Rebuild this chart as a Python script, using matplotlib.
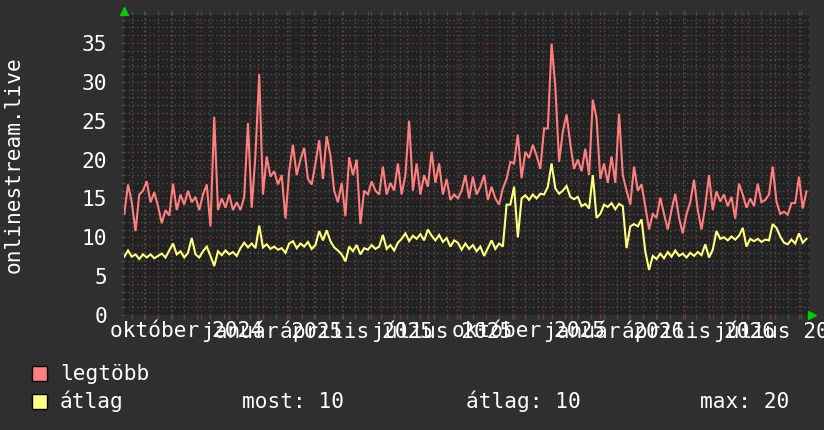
import matplotlib
matplotlib.use("Agg")
import matplotlib.pyplot as plt
import pandas as pd
from matplotlib.patches import Rectangle
from matplotlib.lines import Line2D

# ---------------- data ----------------
start_date = "2024-08-11"
step_days = 4

legtobb = [13, 16.8, 14.5, 10.8, 15.5, 16, 17.2, 14.5, 15.8, 14, 11.8, 13.5, 12.8, 16.9, 13.5, 15.5,
           14.2, 16, 14.5, 15.2, 13.5, 15.5, 16.8, 11.4, 25.5, 13.5, 15, 13.8, 15.5, 13.5, 14.5, 13.5,
           15.2, 24.7, 13.8, 20.6, 31, 15.5, 20.4, 17.8, 18.5, 16.8, 18, 12.4, 18.5, 21.9, 18, 20,
           21.5, 17.5, 16.8, 19.5, 22.5, 17.5, 23, 20.5, 16, 14.5, 17, 12.7, 20.3, 18, 20, 11.7,
           16, 15.5, 17.2, 16, 15.5, 19.1, 15.5, 17, 16, 19.5, 15.5, 18, 25, 16, 19.5, 15.5,
           18, 16.5, 21, 17, 19.5, 15.5, 17.5, 14.8, 15.5, 15, 16, 18, 15, 17.8, 15.5, 16.5,
           18, 14.8, 16.5, 15, 14.2, 16.3, 17.5, 19.7, 19.5, 23.2, 17.6, 21, 20.2, 21.9, 20.5, 18.8,
           24, 24, 34.9, 29.4, 19.7, 23.6, 25.8, 22, 18.8, 20, 18.5, 21.4, 18, 27.7, 25.3, 17.5,
           19.5, 17, 20.4, 17, 25.9, 18, 16, 14.2, 19.1, 16, 16.8, 14, 11, 13, 12.5, 15.1,
           13, 11, 13.5, 15.6, 12.5, 10.5, 13, 14.5, 17.4, 13.5, 11, 14, 18, 13.5, 15.9, 14.6,
           15.5, 14, 15.2, 12.4, 16.9, 15.5, 13.8, 15, 14, 16.9, 14.5, 14.8, 15.5, 19.1, 14.6, 13,
           13.3, 12.9, 14.4, 14.4, 17.8, 13.7, 15.9]

atlag = [7.5, 8.3, 7.5, 7.8, 7.2, 7.8, 7.4, 7.8, 7.3, 7.6, 7.9, 7.4, 8.3, 9.2, 7.8, 8.2,
         7.4, 8, 9.9, 7.8, 7.4, 8.2, 8.8, 7.6, 6.3, 8.2, 7.7, 8.3, 7.8, 8.1, 7.6, 8.6,
         9.3, 8.7, 9.2, 8.6, 11.5, 8.7, 9.1, 8.5, 8.8, 8.4, 8.6, 8, 9.2, 9.5, 8.6, 9.2,
         8.8, 9.4, 8.5, 9, 10.8, 9.6, 10.9, 9.5, 8.7, 8.3, 7.8, 6.9, 8.8, 8.2, 9, 7.8,
         8.6, 8.4, 9, 8.5, 8.8, 10.3, 8.5, 9, 8.3, 9.3, 9.8, 10.5, 9.5, 10.2, 9.8, 10.4,
         9.6, 11, 10.2, 9.6, 10.3, 9.4, 9.9, 8.8, 9.6, 9.3, 8.4, 9.2, 8.5, 9, 8.2, 8.8,
         7.6, 8.6, 9.6, 8.5, 9.2, 8.8, 14.2, 14.2, 16.5, 10, 15, 15.4, 14.8, 15.5, 15, 15.6,
         15.5, 16.5, 19.5, 16.3, 15.6, 16, 16.6, 15.2, 14.9, 15.2, 14, 14.3, 13.7, 18, 12.5, 13,
         14.2, 13.9, 14.4, 13.6, 14.3, 14, 8.6, 11.4, 11.7, 11.4, 12.3, 8.2, 5.8, 7.6, 7.2, 7.9,
         7.3, 8.1, 7.5, 8.3, 7.6, 7.9, 7.4, 8, 7.6, 8.1, 7.7, 9.1, 7.4, 8.4, 10.8, 9.8,
         10, 9.6, 10.1, 9.7, 10.2, 11.2, 8.8, 9.8, 9.5, 9.8, 9.4, 9.7, 9.6, 11.7, 11.2, 10.1,
         9.3, 9.1, 9.7, 9.2, 10.5, 9.3, 9.8]

x_labels = ["október 2024", "január 2025", "április 2025", "július 2025",
            "október 2025", "január 2026", "április 2026", "július 2026"]
x_label_dates = ["2024-10-16", "2025-01-16", "2025-04-16", "2025-07-16",
                 "2025-10-16", "2026-01-16", "2026-04-16", "2026-07-16"]
y_ticks = [0, 5, 10, 15, 20, 25, 30, 35]
series_names = ["legtöbb", "átlag"]
stats_texts = ["most: 10", "átlag: 10", "max: 20"]
y_title = "onlinestream.live"

# ---------------- style ----------------
BG = "#2f2f2f"
PLOT_BG = "#222222"
RED = "#ff7f7f"
YELLOW = "#ffff80"
MINOR = "#4e4e4e"
MAJOR = "#773838"
FONT = "DejaVu Sans Mono"
FS = 15.2

W, H = 824, 430
fig = plt.figure(figsize=(W / 100, H / 100), dpi=100, facecolor=BG)
L, R, T, B = 124, 809, 15, 315
ax = fig.add_axes([L / W, 1 - B / H, (R - L) / W, (B - T) / H])
ax.set_facecolor(PLOT_BG)

dates = pd.date_range(start_date, periods=len(legtobb), freq=f"{step_days}D")

xmin = pd.Timestamp("2024-08-10 17:00")
xmax = pd.Timestamp("2026-08-11 17:00")
ax.set_xlim(xmin, xmax)
ax.set_ylim(0, 38.6)

# grid
month_ticks = pd.date_range("2024-09-01", "2026-08-01", freq="MS")
week_ticks = pd.date_range("2024-08-19", "2026-08-10", freq="14D")
ax.set_xticks(month_ticks)
ax.set_xticks(week_ticks, minor=True)
ax.set_xticklabels([])
ax.set_xticklabels([], minor=True)
ax.set_yticks(y_ticks)
ax.set_yticks(range(0, 39), minor=True)
ax.set_yticklabels([str(v) for v in y_ticks], fontfamily=FONT, fontsize=FS, color="white")

dot = (0, (1, 2))
ax.grid(which="minor", color=MINOR, linestyle=dot, linewidth=1.0)
ax.grid(which="major", color=MAJOR, linestyle=dot, linewidth=1.0)
ax.set_axisbelow(True)

ax.tick_params(axis="x", which="major", length=3, width=1, color=MAJOR,
               direction="out", top=True, bottom=True)
ax.tick_params(axis="x", which="minor", length=3, width=1, color=MINOR,
               direction="out", top=True, bottom=True)
ax.tick_params(axis="y", which="both", length=2, width=1, color=MINOR,
               direction="out", left=True, right=False, pad=10)
for s in ax.spines.values():
    s.set_visible(False)

# series
ax.plot(dates, legtobb, color=RED, linewidth=1.5, solid_joinstyle="miter")
ax.plot(dates, atlag, color=YELLOW, linewidth=1.5, solid_joinstyle="miter")

# x labels (rrdtool style: centered half a month after the tick)
xt = ax.get_xaxis_transform()
for d, lab in zip(x_label_dates, x_labels):
    ax.text(pd.Timestamp(d), -(331 - B) / (B - T), lab, transform=xt,
            ha="center", va="center", fontfamily=FONT, fontsize=FS,
            color="white", clip_on=False)

# y title
fig.text(14 / W, 1 - 165 / H, y_title, rotation=90, ha="center", va="center",
         fontfamily=FONT, fontsize=FS, color="white")

# arrows
fig.add_artist(Line2D([L / W], [1 - 10.5 / H], marker="^", markersize=5.5,
                      color="#00cc00", linestyle="none", transform=fig.transFigure))
fig.add_artist(Line2D([(R + 3) / W], [1 - B / H], marker=">", markersize=5.5,
                      color="#00cc00", linestyle="none", transform=fig.transFigure))

# legend
rows_y = [373.5, 401.5]
for (name, col, yy) in zip(series_names, [RED, YELLOW], rows_y):
    fig.patches.append(Rectangle((32 / W, 1 - (yy + 7.5) / H), 15 / W, 15 / H,
                                 transform=fig.transFigure, facecolor=col,
                                 edgecolor="black", linewidth=1.0))
    fig.text(60 / W, 1 - yy / H, name, ha="left", va="center",
             fontfamily=FONT, fontsize=FS, color="white")
for txt, xx in zip(stats_texts, [242, 466, 700]):
    fig.text(xx / W, 1 - rows_y[1] / H, txt, ha="left", va="center",
             fontfamily=FONT, fontsize=FS, color="white")

fig.savefig("out.png", dpi=100, facecolor=BG)
